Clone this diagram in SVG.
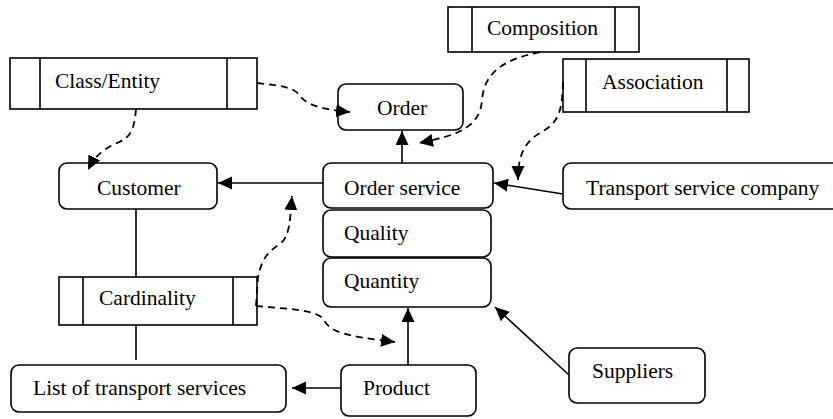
<svg xmlns="http://www.w3.org/2000/svg" width="833" height="419" viewBox="0 0 833 419" font-family="'Liberation Serif', 'Times New Roman', serif" font-size="21">
<style>
.box{fill:#fff;stroke:#000;stroke-width:1.6}
.ln{fill:none;stroke:#000;stroke-width:1.6}
.dash{fill:none;stroke:#000;stroke-width:1.8;stroke-dasharray:7,5}
.t{font-family:'Liberation Serif','Times New Roman',serif;font-size:21.5px;fill:#000}
</style>
<defs>
<marker id="ah" markerUnits="userSpaceOnUse" markerWidth="16" markerHeight="14" refX="14" refY="6.5" orient="auto">
<path d="M0,0 L14,6.5 L0,13 Z" fill="#000"/>
</marker>
</defs>
<g id="class-entity">
<rect class="box" x="10" y="58" width="247" height="51"/>
<path class="ln" d="M40,58 V109 M227,58 V109"/>
<text class="t" x="55" y="88">Class/Entity</text>
</g>
<g id="composition">
<rect class="box" x="448" y="7" width="191" height="45"/>
<path class="ln" d="M472,7 V52 M615,7 V52"/>
<text class="t" x="487" y="35">Composition</text>
</g>
<g id="association">
<rect class="box" x="563" y="59" width="186" height="53"/>
<path class="ln" d="M586,59 V112 M727,59 V112"/>
<text class="t" x="602" y="89">Association</text>
</g>
<g id="order">
<rect class="box" x="338" y="84" width="125" height="46" rx="8"/>
<text class="t" x="377" y="115">Order</text>
</g>
<g id="customer">
<rect class="box" x="59" y="163" width="158" height="46" rx="8"/>
<text class="t" x="97" y="195">Customer</text>
</g>
<g id="order-service">
<rect class="box" x="323" y="163" width="170" height="45" rx="8"/>
<text class="t" x="344" y="195">Order service</text>
</g>
<g id="transport-company">
<rect class="box" x="563" y="163" width="280" height="46" rx="8"/>
<text class="t" x="586" y="195">Transport service company</text>
</g>
<g id="quality">
<rect class="box" x="323" y="210" width="168" height="47" rx="8"/>
<text class="t" x="344" y="240">Quality</text>
</g>
<g id="quantity">
<rect class="box" x="323" y="258" width="168" height="49" rx="8"/>
<text class="t" x="344" y="288">Quantity</text>
</g>
<g id="cardinality">
<rect class="box" x="59" y="277" width="198" height="48"/>
<path class="ln" d="M83,277 V325 M233,277 V325"/>
<text class="t" x="99" y="305">Cardinality</text>
</g>
<g id="list-transport">
<rect class="box" x="11" y="365" width="275" height="47" rx="8"/>
<text class="t" x="33" y="395">List of transport services</text>
</g>
<g id="product">
<rect class="box" x="341" y="365" width="135" height="51" rx="8"/>
<text class="t" x="363" y="395">Product</text>
</g>
<g id="suppliers">
<rect class="box" x="569" y="348" width="136" height="55" rx="8"/>
<text class="t" x="592" y="378">Suppliers</text>
</g>
<g id="connectors">
<path class="ln" d="M323,183 L218,183" marker-end="url(#ah)"/>
<path class="ln" d="M402,163 L402,131" marker-end="url(#ah)"/>
<path class="ln" d="M563,194 L494,183" marker-end="url(#ah)"/>
<path class="ln" d="M408,365 L408,308" marker-end="url(#ah)"/>
<path class="ln" d="M341,388 L292,388" marker-end="url(#ah)"/>
<path class="ln" d="M569,375 L495,307" marker-end="url(#ah)"/>
<path class="ln" d="M136,209 L136,277"/>
<path class="ln" d="M136,325 L136,360"/>
<path class="dash" d="M136,109 C134,135 128,138 115,144 C100,151 94,158 88,170" marker-end="url(#ah)"/>
<path class="dash" d="M257,83 C285,86 295,88 300,96 C306,104 318,109 350,112" marker-end="url(#ah)"/>
<path class="dash" d="M540,52 C500,60 484,75 482,100 C480,125 462,135 419,143" marker-end="url(#ah)"/>
<path class="dash" d="M563,82 C562,110 560,122 540,133 C522,143 518,160 518,180" marker-end="url(#ah)"/>
<path class="dash" d="M256,306 L258,277 C262,258 268,252 280,244 C290,236 290,220 292,196" marker-end="url(#ah)"/>
<path class="dash" d="M256,306 C290,309 318,310 324,320 C330,332 345,336 395,342" marker-end="url(#ah)"/>
</g>
</svg>
